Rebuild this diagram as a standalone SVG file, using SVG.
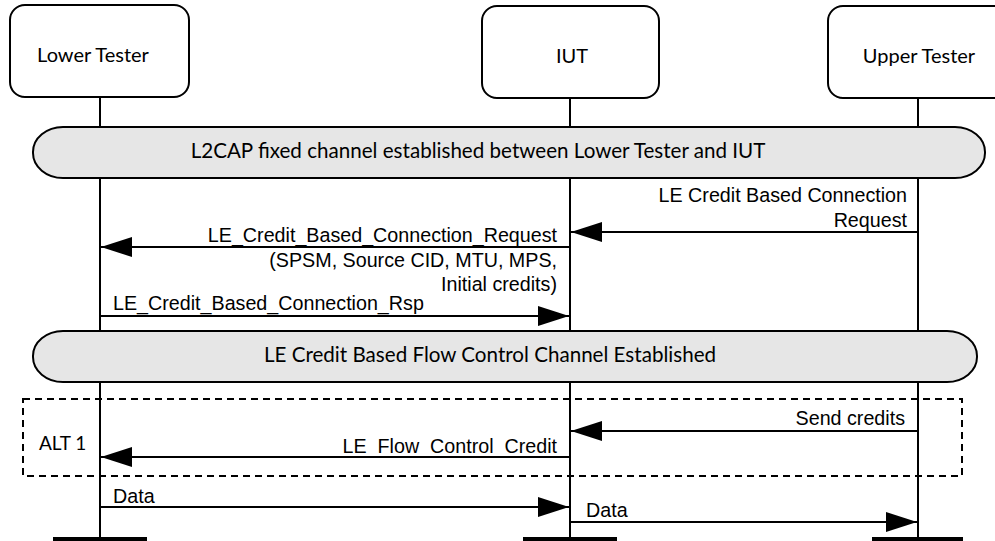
<svg xmlns="http://www.w3.org/2000/svg" width="995" height="541" viewBox="0 0 995 541">
<style>
.box{fill:#fff;stroke:#000;stroke-width:2}
.life{stroke:#000;stroke-width:2}
.band{fill:#e6e6e6;stroke:#000;stroke-width:2}
.hdr{font-family:Lato,"Liberation Sans",sans-serif;font-size:20px;fill:#000}
.bt{font-size:20.6px}
.msg{font-family:"Liberation Sans",Arial,sans-serif;font-size:19.7px;fill:#000}
.arr{stroke:#000;stroke-width:2;fill:none;marker-end:url(#ah)}
.foot{stroke:#000;stroke-width:4}
</style>
<defs>
<marker id="ah" markerUnits="userSpaceOnUse" markerWidth="31" markerHeight="20" refX="31" refY="10" orient="auto">
<path d="M0,0 L31,10 L0,20 z" fill="#000"/>
</marker>
</defs>
<rect width="995" height="541" fill="#fff"/>
<g id="lifelines">
<line class="life" x1="100" y1="97" x2="100" y2="541"/>
<line class="life" x1="570" y1="98" x2="570" y2="541"/>
<line class="life" x1="918" y1="98" x2="918" y2="541"/>
<line class="foot" x1="53" y1="539" x2="147" y2="539"/>
<line class="foot" x1="523" y1="539" x2="617" y2="539"/>
<line class="foot" x1="872" y1="539" x2="963" y2="539"/>
</g>
<g id="lower-tester">
<rect class="box" x="10" y="5" width="179" height="92" rx="15"/>
<text class="hdr" x="93" y="62" text-anchor="middle">Lower Tester</text>
</g>
<g id="iut">
<rect class="box" x="482" y="6" width="177" height="92" rx="15"/>
<text class="hdr" x="572" y="63" text-anchor="middle">IUT</text>
</g>
<g id="upper-tester">
<rect class="box" x="828" y="6" width="190" height="92" rx="15"/>
<text class="hdr" x="919" y="63" text-anchor="middle">Upper Tester</text>
</g>
<g id="band1">
<rect class="band" x="33" y="127" width="952" height="51" rx="30" ry="25"/>
<text class="hdr bt" x="478" y="158" text-anchor="middle">L2CAP fixed channel established between Lower Tester and IUT</text>
</g>
<g id="band2">
<rect class="band" x="33" y="331" width="944" height="51" rx="30" ry="25"/>
<text class="hdr bt" x="490" y="362" text-anchor="middle">LE Credit Based Flow Control Channel Established</text>
</g>
<g id="alt1">
<rect x="23" y="399" width="939" height="77" fill="none" stroke="#000" stroke-width="2" stroke-dasharray="7,5"/>
<text class="hdr" x="39" y="450" style="font-size:19px">ALT 1</text>
</g>
<g id="connectors">
<line class="arr" x1="918" y1="232" x2="571" y2="232"/>
<text class="msg" x="907" y="202" text-anchor="end">LE Credit Based Connection</text>
<text class="msg" x="907" y="227" text-anchor="end">Request</text>
<line class="arr" x1="570" y1="247" x2="101" y2="247"/>
<text class="msg" x="557" y="242" text-anchor="end">LE_Credit_Based_Connection_Request</text>
<text class="msg" x="557" y="267" text-anchor="end">(SPSM, Source CID, MTU, MPS,</text>
<text class="msg" x="557" y="291" text-anchor="end">Initial credits)</text>
<line class="arr" x1="100" y1="316" x2="569" y2="316"/>
<text class="msg" x="113" y="310">LE_Credit_Based_Connection_Rsp</text>
<line class="arr" x1="918" y1="431" x2="571" y2="431"/>
<text class="msg" x="905" y="425" text-anchor="end">Send credits</text>
<line class="arr" x1="570" y1="457" x2="101" y2="457"/>
<text class="msg" x="557" y="453" text-anchor="end">LE_Flow_Control_Credit</text>
<line class="arr" x1="100" y1="507" x2="569" y2="507"/>
<text class="msg" x="113" y="503">Data</text>
<line class="arr" x1="570" y1="522" x2="917" y2="522"/>
<text class="msg" x="586" y="517">Data</text>
</g>
</svg>
